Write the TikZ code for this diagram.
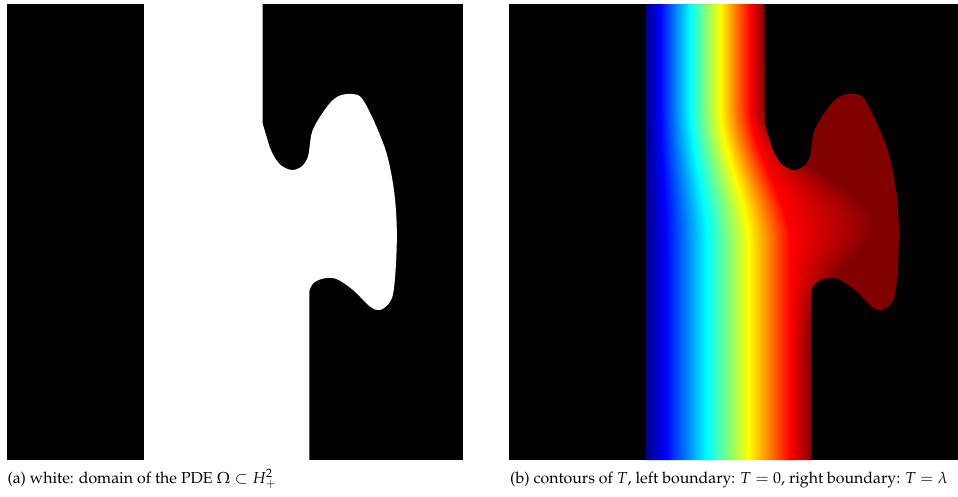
\documentclass[tikz,border=0pt]{standalone}
\usepackage[T1]{fontenc}
\usepackage{mathpazo}
\usepackage{tikz}
\usetikzlibrary{positioning}

\pgfdeclarehorizontalshading{jet}{100bp}{rgb(0bp)=(0,0,0.5); rgb(25bp)=(0,0,0.5); rgb(32.14bp)=(0,0,1);
  rgb(46.43bp)=(0,1,1); rgb(60.71bp)=(1,1,0); rgb(75bp)=(1,0,0); rgb(100bp)=(1,0,0)}
\definecolor{jetdark}{rgb}{0.5,0,0}

\begin{document}
\begin{tikzpicture}[x=1pt, y=-1pt,
    panel/.style={fill=black},
    pdedomain/.style={insert path={(144,4) -- (262.5,4) -- (262.5,123)
      -- plot[smooth, tension=0.55] coordinates {(262.5,123) (266.5,136.5) (271.5,151.5) (280,164.5)
        (291.5,170) (301.5,166.5) (308,156.5) (311.5,134) (318,120) (330,103) (340,95.5) (353,94)
        (362,98.5) (373.5,120) (386.5,153) (393.5,187) (396.5,220) (396.5,253) (394,288) (390,302)
        (380,310) (370,306.5) (353,290) (336.5,279) (323.5,278.5) (313.5,283) (309.3,291)}
      -- (309.3,460) -- (144,460) -- cycle}},
    caption/.style={anchor=base west, inner sep=0pt, font=\fontsize{15.9}{19}\selectfont}]

  \useasboundingbox[fill=white] (0,0) rectangle (958,496);

  % (a) domain
  \fill[panel] (7,4) rectangle (463,460);
  \fill[white, pdedomain];
  \node[caption] (capa) at (7.3,483.5) {(a) white: domain of the PDE $\Omega\subset H^2_+$};

  % (b) contours of T
  \fill[panel] (509,4) rectangle (958,460);
  \begin{scope}
    \clip[shift={(502,0)}, pdedomain];
    \foreach \yy in {4,6,...,458} {
      \pgfmathsetmacro\tpos{min(max((\yy-105)/140,0),1)}
      \pgfmathsetmacro\bend{\tpos*\tpos*(3-2*\tpos)}
      \pgfmathsetmacro\dist{(\yy-218)/55}
      \pgfmathsetmacro\xred{750+40*\bend}
      \pgfmathsetmacro\xdark{\xred+15+7*\bend+68*exp(-\dist*\dist)}
      \shade[shading=jet] (645,\yy) rectangle (\xred,\yy+2.6);
      \shade[left color=red, right color=jetdark] (\xred,\yy) rectangle (\xdark,\yy+2.6);
      \fill[jetdark] (\xdark,\yy) rectangle (958,\yy+2.6);
    }
  \end{scope}
  \node[caption] (capb) at (510,483.5) {(b) contours of $T$, left boundary: $T=0$, right boundary: $T=\lambda$};
\end{tikzpicture}
\end{document}
